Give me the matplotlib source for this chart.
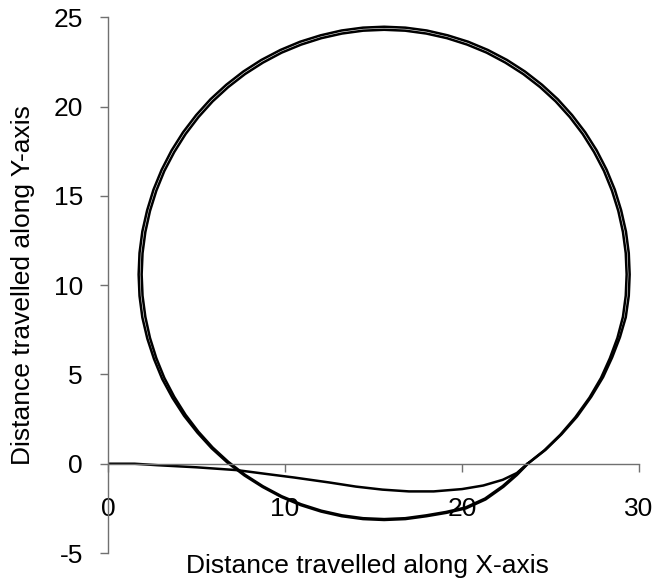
import matplotlib
matplotlib.use("Agg")
import matplotlib.pyplot as plt

plt.rcParams['font.family'] = ['Liberation Sans', 'DejaVu Sans']
plt.rcParams['axes.unicode_minus'] = False

# path from the origin until it joins the loop
start_x = [0.0, 1.5, 2.75, 5.0, 7.3, 9.0, 10.5, 12.5, 14.0, 15.5, 17.0, 18.4, 20.0, 21.2, 22.3, 23.1, 23.7]
start_y = [0.0, 0.0, -0.08, -0.2, -0.36, -0.58, -0.77, -1.05, -1.28, -1.45, -1.55, -1.55, -1.42, -1.22, -0.9, -0.52, 0.0]

# first loop (counter-clockwise, read every ~5 degrees)
loop1_x = [23.7, 24.65, 25.55, 26.4, 27.2, 27.85, 28.35, 28.78, 29.09, 29.25,
           29.3, 29.25, 29.09, 28.83, 28.47, 28.02, 27.46, 26.82, 26.09, 25.29,
           24.41, 23.46, 22.45, 21.39, 20.29, 19.15, 17.98, 16.79, 15.6, 14.41,
           13.22, 12.05, 10.91, 9.81, 8.75, 7.74, 6.79, 5.91, 5.11, 4.38,
           3.74, 3.18, 2.73, 2.37, 2.11, 1.95, 1.9, 1.95, 2.11, 2.37,
           2.73, 3.18, 3.74, 4.38, 5.11, 5.91, 6.79, 7.74, 8.75, 9.81,
           10.91, 12.05, 13.22, 14.41, 15.6, 16.79, 17.98, 19.1, 20.2, 21.3,
           22.3, 23.05, 23.7]
loop1_y = [0.0, 0.75, 1.62, 2.6, 3.7, 4.8, 5.9, 7.05, 8.22, 9.41,
           10.6, 11.79, 12.98, 14.15, 15.29, 16.39, 17.45, 18.46, 19.41, 20.29,
           21.09, 21.82, 22.46, 23.02, 23.47, 23.83, 24.09, 24.25, 24.3, 24.25,
           24.09, 23.83, 23.47, 23.02, 22.46, 21.82, 21.09, 20.29, 19.41, 18.46,
           17.45, 16.39, 15.29, 14.15, 12.98, 11.79, 10.6, 9.41, 8.22, 7.05,
           5.91, 4.81, 3.75, 2.74, 1.79, 0.91, 0.11, -0.62, -1.26, -1.82,
           -2.27, -2.63, -2.89, -3.05, -3.1, -3.05, -2.89, -2.7, -2.45, -1.95,
           -1.25, -0.6, 0.0]

# second loop, drifting slightly outward
loop2_x = [23.75, 24.72, 25.62, 26.5, 27.3, 27.97, 28.48, 28.92, 29.25, 29.42,
           29.47, 29.42, 29.26, 28.99, 28.63, 28.17, 27.61, 26.96, 26.22, 25.41,
           24.52, 23.56, 22.54, 21.46, 20.35, 19.19, 18.01, 16.8, 15.6, 14.4,
           13.19, 12.01, 10.85, 9.74, 8.66, 7.64, 6.68, 5.79, 4.98, 4.24,
           3.59, 3.03, 2.57, 2.21, 1.94, 1.78, 1.73, 1.78, 1.94, 2.22,
           2.6, 3.06, 3.64, 4.3, 5.05, 5.86, 6.75, 7.71, 8.73, 9.79,
           10.89, 12.04, 13.21, 14.41, 15.6, 16.8, 17.99, 19.12, 20.22, 21.33,
           22.34, 23.1, 23.75]
loop2_y = [0.03, 0.78, 1.65, 2.64, 3.75, 4.85, 5.95, 7.08, 8.2, 9.4,
           10.6, 11.8, 13.01, 14.19, 15.35, 16.46, 17.54, 18.56, 19.52, 20.41,
           21.22, 21.96, 22.61, 23.17, 23.63, 23.99, 24.26, 24.42, 24.47, 24.42,
           24.26, 23.99, 23.63, 23.17, 22.61, 21.96, 21.22, 20.41, 19.52, 18.56,
           17.54, 16.46, 15.35, 14.19, 13.01, 11.8, 10.6, 9.4, 8.19, 7.01,
           5.86, 4.75, 3.69, 2.68, 1.74, 0.86, 0.06, -0.66, -1.3, -1.86,
           -2.32, -2.68, -2.94, -3.1, -3.15, -3.1, -2.94, -2.75, -2.5, -2.0,
           -1.29, -0.63, 0.03]

x_ticks = [0, 10, 20, 30]
y_ticks = [-5, 0, 5, 10, 15, 20, 25]

fig = plt.figure(figsize=(6.59, 5.88), dpi=100)
ax = fig.add_axes([0.1639, 0.0595, 0.8058, 0.9111])

lw = 1.8
for xs, ys in [(start_x, start_y), (loop1_x, loop1_y), (loop2_x, loop2_y)]:
    ax.plot(xs, ys, color='black', lw=lw, solid_joinstyle='round')

ax.set_xlim(0, 30)
ax.set_ylim(-5, 25)
ax.set_xticks(x_ticks)
ax.set_yticks(y_ticks)

ax.spines['top'].set_visible(False)
ax.spines['right'].set_visible(False)
ax.spines['bottom'].set_position(('data', 0))
for s in ('left', 'bottom'):
    ax.spines[s].set_color('#707070')
    ax.spines[s].set_linewidth(1.0)

ax.tick_params(axis='x', direction='out', length=6, width=1.0, color='#707070',
               labelsize=19, pad=18)
ax.tick_params(axis='y', direction='out', length=6, width=1.0, color='#707070',
               labelsize=19, pad=12)

ax.set_xlabel("Distance travelled along X-axis", fontsize=19)
ax.set_ylabel("Distance travelled along Y-axis", fontsize=19)
ax.xaxis.set_label_coords(0.488, -0.002)
ax.yaxis.set_label_coords(-0.137, 0.5)

fig.savefig("out.png", dpi=100)
